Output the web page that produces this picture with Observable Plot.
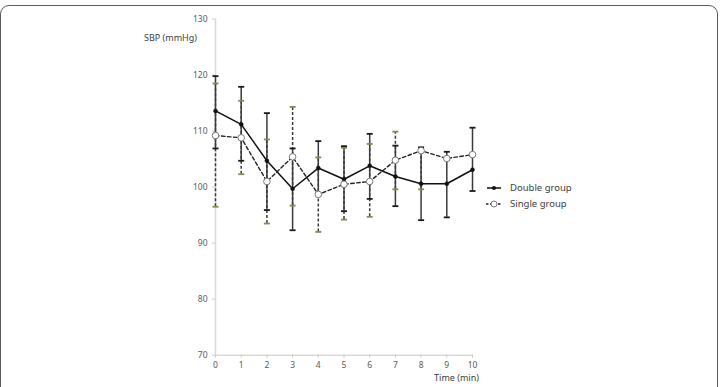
<!DOCTYPE html>
<html>
<head>
<meta charset="utf-8">
<script src="https://cdn.jsdelivr.net/npm/d3@7"></script>
<script src="https://cdn.jsdelivr.net/npm/@observablehq/plot@0.6"></script>
<style>
  html, body { margin: 0; padding: 0; background: #fff; }
  #wrap { position: relative; width: 720px; height: 387px; overflow: hidden; font-family: "Noto Sans", "Open Sans", sans-serif; }
  #frame { position: absolute; left: 0px; top: 5px; width: 716px; height: 420px; border: 1.6px solid #5c5c5c; border-radius: 9px; box-sizing: content-box; }
  #chart { position: absolute; left: 0; top: 0; }
  #legend { position: absolute; left: 486px; top: 180px; font-size: 9.5px; color: #404040; line-height: 16px; }
  #legend div { display: flex; align-items: center; height: 16px; }
  #legend svg { margin-right: 8px; }
</style>
</head>
<body>
<div id="wrap">
  <div id="frame"></div>
  <div id="chart"></div>
  <div id="legend"></div>
</div>
<script>
// ---- data ----
const times = [0, 1, 2, 3, 4, 5, 6, 7, 8, 9, 10];
const doubleMean = [113.6, 111.2, 104.7, 99.7, 103.4, 101.4, 103.8, 101.9, 100.6, 100.6, 103.1];
const doubleLow  = [106.9, 104.7, 95.9, 92.3, 98.6, 95.7, 97.9, 96.6, 94.1, 94.6, 99.3];
const doubleHigh = [119.8, 117.9, 113.2, 106.9, 108.2, 107.3, 109.5, 107.4, 107.1, 106.3, 110.6];
const singleMean = [109.2, 108.8, 101.0, 105.4, 98.7, 100.5, 101.0, 104.8, 106.5, 105.1, 105.8];
const singleLow  = [96.5, 102.3, 93.5, 96.7, 92.0, 94.2, 94.7, 99.6, 99.6, null, null];
const singleHigh = [118.5, 115.4, 108.5, 114.3, 105.3, 107.0, 107.7, 109.9, null, null, null];
const seriesNames = ["Double group", "Single group"];
const xTicks = [0, 1, 2, 3, 4, 5, 6, 7, 8, 9, 10];
const yTicks = [70, 80, 90, 100, 110, 120, 130];
const xTitle = "Time (min)";
const yTitle = "SBP (mmHg)";

// ---- tables ----
const dbl = times.map((t, i) => ({t, mean: doubleMean[i], low: doubleLow[i], high: doubleHigh[i]}));
const sgl = times.map((t, i) => ({t, mean: singleMean[i], low: singleLow[i], high: singleHigh[i]}));
const caps = (rows) => rows.flatMap(d => [d.low, d.high].filter(v => v != null).map(v => ({t: d.t, v})));
const bars = (rows) => rows.filter(d => d.low != null || d.high != null)
  .map(d => ({t: d.t, y1: d.low ?? d.mean, y2: d.high ?? d.mean}));

// horizontal cap symbol
const capSymbol = { draw(ctx, size) { const w = Math.sqrt(size); ctx.moveTo(-w, 0); ctx.lineTo(w, 0); } };

const fontFamily = '"Noto Sans", "Open Sans", sans-serif';
const olive = "#8c8850";

const chart = Plot.plot({
  width: 720,
  height: 387,
  marginLeft: 215,
  marginRight: 248,
  marginTop: 18.5,
  marginBottom: 32.3,
  x: {domain: [0, 10], label: null},
  y: {domain: [70, 130], label: null},
  style: {fontFamily, fontSize: "8.5px", color: "#595959", background: "transparent"},
  marks: [
    Plot.ruleX([0], {stroke: "#d9d9d9", strokeWidth: 1.5}),
    Plot.ruleY([70], {stroke: "#d9d9d9", strokeWidth: 1.5}),
    Plot.axisY({ticks: yTicks, tickSize: 3, tickPadding: 5, stroke: "#c8c8c8", label: null, fill: "#595959"}),
    Plot.axisX({ticks: xTicks, tickSize: 3, tickPadding: 4, stroke: "#c8c8c8", label: null, fill: "#595959"}),
    // error bars
    Plot.ruleX(bars(dbl), {x: "t", y1: "y1", y2: "y2", stroke: "#3a3a3a", strokeWidth: 1.5}),
    Plot.ruleX(bars(sgl), {x: "t", y1: "y1", y2: "y2", stroke: "#3a3a3a", strokeWidth: 1.5, strokeDasharray: "3,2"}),
    Plot.dot(caps(dbl), {x: "t", y: "v", symbol: capSymbol, r: 1.7, stroke: "#1a1a1a", strokeWidth: 1.8}),
    Plot.dot(caps(sgl), {x: "t", y: "v", symbol: capSymbol, r: 1.7, stroke: olive, strokeWidth: 1.8}),
    // series lines
    Plot.line(dbl, {x: "t", y: "mean", stroke: "#111", strokeWidth: 1.5}),
    Plot.line(sgl, {x: "t", y: "mean", stroke: "#222", strokeWidth: 1.4, strokeDasharray: "3.5,2.5"}),
    Plot.dot(dbl, {x: "t", y: "mean", r: 2, fill: "#111", stroke: "#111", strokeWidth: 0.5}),
    Plot.dot(sgl, {x: "t", y: "mean", r: 3.3, fill: "#fff", stroke: "#777", strokeWidth: 1}),
    // titles
    Plot.text([yTitle], {frameAnchor: "top-left", text: d => d, dx: -45, dy: 19.5, textAnchor: "middle", lineAnchor: "middle", fontSize: 9, fill: "#404040"}),
    Plot.text([xTitle], {frameAnchor: "bottom-right", text: d => d, dx: -16, dy: 22.5, textAnchor: "middle", lineAnchor: "middle", fontSize: 9, fill: "#404040"})
  ]
});
document.getElementById("chart").appendChild(chart);

// legend
const legend = document.getElementById("legend");
seriesNames.forEach((name, i) => {
  const row = document.createElement("div");
  const svg = i === 0
    ? `<svg width="16" height="8"><line x1="1" y1="4" x2="15" y2="4" stroke="#111" stroke-width="1.5"/><circle cx="8" cy="4" r="2" fill="#111"/></svg>`
    : `<svg width="16" height="8"><line x1="0" y1="4" x2="16" y2="4" stroke="#222" stroke-width="1.4" stroke-dasharray="2.5,1.5"/><circle cx="8" cy="4" r="3" fill="#fff" stroke="#777" stroke-width="1"/></svg>`;
  row.innerHTML = svg + `<span>${name}</span>`;
  legend.appendChild(row);
});
</script>
</body>
</html>
